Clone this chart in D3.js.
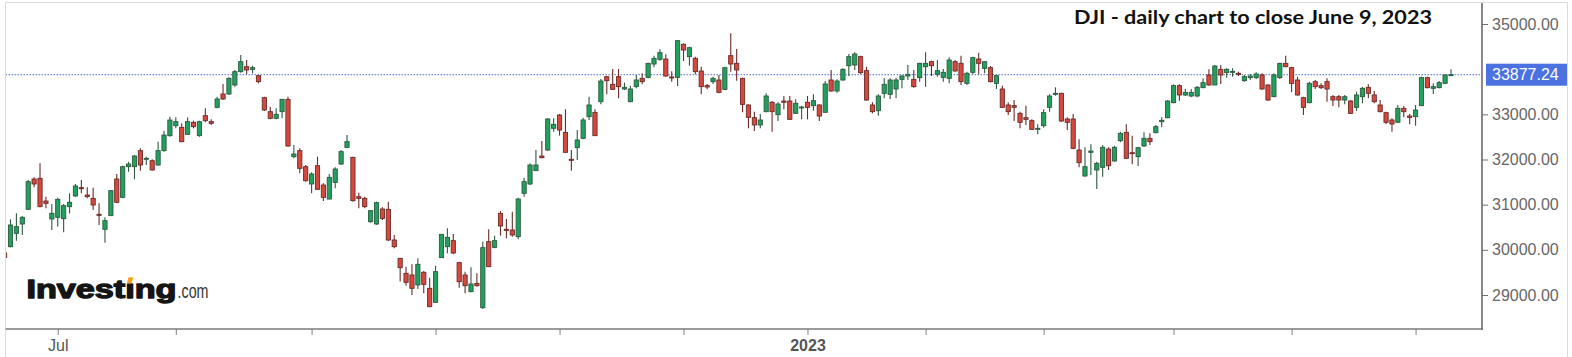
<!DOCTYPE html>
<html><head><meta charset="utf-8">
<script src="https://cdn.jsdelivr.net/npm/d3@7"></script>
<style>
html,body{margin:0;padding:0;background:#fff;}
svg{display:block;}
</style></head>
<body>
<svg id="chart" width="1572" height="357"></svg>
<script>
// ---- DATA (DJI daily, Jun 17 2022 - Jun 9 2023) ----
const dates = [
"2022-06-17","2022-06-21","2022-06-22","2022-06-23","2022-06-24","2022-06-27","2022-06-28","2022-06-29","2022-06-30",
"2022-07-01","2022-07-05","2022-07-06","2022-07-07","2022-07-08","2022-07-11","2022-07-12","2022-07-13","2022-07-14","2022-07-15","2022-07-18","2022-07-19","2022-07-20","2022-07-21","2022-07-22","2022-07-25","2022-07-26","2022-07-27","2022-07-28","2022-07-29",
"2022-08-01","2022-08-02","2022-08-03","2022-08-04","2022-08-05","2022-08-08","2022-08-09","2022-08-10","2022-08-11","2022-08-12","2022-08-15","2022-08-16","2022-08-17","2022-08-18","2022-08-19","2022-08-22","2022-08-23","2022-08-24","2022-08-25","2022-08-26","2022-08-29","2022-08-30","2022-08-31",
"2022-09-01","2022-09-02","2022-09-06","2022-09-07","2022-09-08","2022-09-09","2022-09-12","2022-09-13","2022-09-14","2022-09-15","2022-09-16","2022-09-19","2022-09-20","2022-09-21","2022-09-22","2022-09-23","2022-09-26","2022-09-27","2022-09-28","2022-09-29","2022-09-30",
"2022-10-03","2022-10-04","2022-10-05","2022-10-06","2022-10-07","2022-10-10","2022-10-11","2022-10-12","2022-10-13","2022-10-14","2022-10-17","2022-10-18","2022-10-19","2022-10-20","2022-10-21","2022-10-24","2022-10-25","2022-10-26","2022-10-27","2022-10-28","2022-10-31",
"2022-11-01","2022-11-02","2022-11-03","2022-11-04","2022-11-07","2022-11-08","2022-11-09","2022-11-10","2022-11-11","2022-11-14","2022-11-15","2022-11-16","2022-11-17","2022-11-18","2022-11-21","2022-11-22","2022-11-23","2022-11-25","2022-11-28","2022-11-29","2022-11-30",
"2022-12-01","2022-12-02","2022-12-05","2022-12-06","2022-12-07","2022-12-08","2022-12-09","2022-12-12","2022-12-13","2022-12-14","2022-12-15","2022-12-16","2022-12-19","2022-12-20","2022-12-21","2022-12-22","2022-12-23","2022-12-27","2022-12-28","2022-12-29","2022-12-30",
"2023-01-03","2023-01-04","2023-01-05","2023-01-06","2023-01-09","2023-01-10","2023-01-11","2023-01-12","2023-01-13","2023-01-17","2023-01-18","2023-01-19","2023-01-20","2023-01-23","2023-01-24","2023-01-25","2023-01-26","2023-01-27","2023-01-30","2023-01-31",
"2023-02-01","2023-02-02","2023-02-03","2023-02-06","2023-02-07","2023-02-08","2023-02-09","2023-02-10","2023-02-13","2023-02-14","2023-02-15","2023-02-16","2023-02-17","2023-02-21","2023-02-22","2023-02-23","2023-02-24","2023-02-27","2023-02-28",
"2023-03-01","2023-03-02","2023-03-03","2023-03-06","2023-03-07","2023-03-08","2023-03-09","2023-03-10","2023-03-13","2023-03-14","2023-03-15","2023-03-16","2023-03-17","2023-03-20","2023-03-21","2023-03-22","2023-03-23","2023-03-24","2023-03-27","2023-03-28","2023-03-29","2023-03-30","2023-03-31",
"2023-04-03","2023-04-04","2023-04-05","2023-04-06","2023-04-10","2023-04-11","2023-04-12","2023-04-13","2023-04-14","2023-04-17","2023-04-18","2023-04-19","2023-04-20","2023-04-21","2023-04-24","2023-04-25","2023-04-26","2023-04-27","2023-04-28",
"2023-05-01","2023-05-02","2023-05-03","2023-05-04","2023-05-05","2023-05-08","2023-05-09","2023-05-10","2023-05-11","2023-05-12","2023-05-15","2023-05-16","2023-05-17","2023-05-18","2023-05-19","2023-05-22","2023-05-23","2023-05-24","2023-05-25","2023-05-26","2023-05-30","2023-05-31",
"2023-06-01","2023-06-02","2023-06-05","2023-06-06","2023-06-07","2023-06-08","2023-06-09"
];
const open = [
29930,30070,30365,30572,30897,31568,31583,31081,30683,
30720,30690,30956,31192,31376,31214,31140,30786,30454,30757,31568,31162,31841,31841,32196,32004,31974,31878,32196,32528,
32749,32712,32557,32823,32528,32970,32838,33155,33450,33450,33649,33945,34055,33996,33856,33369,33059,32911,33059,33332,32063,32196,31841,
31458,31863,31435,31125,31494,31900,32269,32048,31177,31140,30624,30572,30904,30897,30218,29812,29480,29443,29222,29502,29148,
28838,29827,30070,30203,29716,29443,29074,29258,28720,30181,30055,30808,30454,30439,30292,31251,31458,31753,32077,32210,32690,
32985,32601,32004,32262,32469,32948,33044,33280,33834,33664,33834,33561,33280,33613,33797,33819,34114,34218,34225,33827,33819,
34550,34277,34240,33959,33635,33723,33760,33553,34299,34129,33797,33207,32926,32764,33059,33266,32993,33295,33295,33022,33140,
33266,33192,33207,33044,33760,33517,33760,34077,34092,34277,33967,33207,33081,33465,33443,33561,33775,33849,33775,33812,
34055,34166,33886,33819,33797,34166,34129,33686,33930,34225,34018,34033,33686,33561,33207,33192,33022,32926,32860,
32668,32749,33155,33443,33465,32897,32897,32210,31635,32159,31768,31827,32232,31967,32417,32601,32151,32063,32299,32469,32594,32838,32926,
33258,33635,33428,33406,33406,33591,33871,33650,33996,33923,33945,33908,33745,33812,33812,33871,33650,33391,33812,
34129,34033,33760,33369,33258,33723,33635,33723,33391,33391,33317,33295,33155,33391,33598,33428,33207,33037,32875,32823,33133,32963,
32948,33192,33812,33576,33591,33686,33871
];
const high = [
29960,30675,30808,30749,31546,31605,31915,31177,31015,
31155,31015,31251,31458,31546,31384,31376,31030,30720,31325,31679,31863,31952,32100,32247,32063,32004,32395,32638,32948,
32934,32801,32934,32860,32860,33133,32889,33391,33672,33819,33982,34314,34203,34077,33871,33391,33170,33133,33340,33391,32321,32247,31878,
31716,32063,31472,31679,31827,32210,32542,32063,31266,31177,30882,31066,30941,31066,30329,29812,29627,29679,29812,29531,29384,
29650,30350,30476,30350,29738,29517,29613,29480,30181,30454,30314,30860,30683,30845,31155,31598,31915,32210,32410,32911,32911,
33007,33111,32210,32653,32926,33391,33111,33782,33849,34004,34004,33701,33635,33871,33908,34144,34299,34439,34328,33952,34646,
34572,34498,34277,34055,33672,33834,33871,34055,34793,34447,33812,33221,33059,33007,33465,33295,33266,33406,33406,33332,33192,
33406,33443,33221,33738,33982,33775,34018,34336,34373,34299,34055,33266,33443,33797,33797,33812,33871,34092,33982,34144,
34373,34188,34203,34004,34262,34203,34299,33945,34277,34365,34181,34070,33871,33635,33266,33317,33059,33192,32889,
32779,33111,33443,33598,33480,32934,33007,32447,32269,32336,31952,32321,32269,32306,32616,32779,32528,32284,32601,32579,32764,32934,33317,
33664,33664,33561,33561,33627,33797,33996,34092,34092,34018,34018,33945,33871,33893,33930,33908,33664,33908,34144,
34299,34055,33834,33391,33723,33760,33686,33797,33428,33428,33428,33317,33502,33613,33664,33517,33317,33059,32911,33207,33185,33007,
33207,33834,33834,33686,33738,33886,33996
];
const low = [
29810,30055,30203,30329,30882,31384,30941,30919,30439,
30513,30388,30808,31177,31251,31140,30882,30550,30159,30749,31030,31140,31730,31561,31753,31878,31753,31863,32174,32506,
32690,32380,32542,32690,32506,32823,32764,33133,33317,33428,33612,33922,33893,33908,33686,33074,32889,32889,32911,32284,32026,31694,31509,
31251,31325,31081,31118,31362,31878,32247,31066,30919,30919,30602,30550,30661,30196,30033,29300,29207,29000,29133,29037,28727,
28830,29827,29923,29900,29162,29037,29059,29185,28690,29627,30033,30314,30255,30292,30233,31177,31435,31753,32026,32188,32616,
32528,32151,31753,31989,32447,32875,32520,33221,33443,33539,33354,33539,33266,33576,33664,33797,34041,34188,33834,33723,33627,
34181,34077,33886,33443,33554,33672,33465,33539,33945,33745,33044,32690,32631,32690,33044,32616,32852,33111,32875,33007,32889,
32889,33081,32852,33037,33502,33480,33745,33849,33982,33893,33303,33022,32970,33354,33340,33354,33576,33760,33590,33723,
33613,33849,33834,33723,33686,33945,33650,33650,33886,33886,33908,33709,33561,33155,32985,32852,32690,32764,32653,
32557,32705,33059,33413,32838,32653,32225,31827,31620,31656,31347,31620,31768,31952,32380,32011,31893,31856,32284,32321,32579,32712,32911,
33244,33303,33406,33376,33376,33576,33635,33650,33672,33812,33834,33849,33723,33760,33782,33546,33295,33376,33782,
34041,33487,33413,32985,33244,33561,33561,33280,33185,33155,33221,33007,33074,33244,33354,33244,33044,32779,32616,32815,32934,32779,
32749,33185,33576,33450,33576,33672,33849
];
const close = [
29830,30550,30513,30720,31509,31458,30956,31030,30808,
31118,30978,31052,31413,31354,31177,30993,30764,30646,31310,31052,31841,31900,32077,31878,32026,31768,32196,32542,32874,
32838,32395,32838,32727,32838,32860,32801,33340,33340,33797,33945,34166,33982,34033,33723,33096,32911,33000,33332,32299,32122,31804,31531,
31679,31340,31162,31605,31790,32174,32395,31089,31140,30956,30867,31044,30697,30218,30070,29605,29281,29148,29679,29236,28742,
29517,30343,30277,29930,29295,29207,29244,29207,30048,29627,30203,30528,30432,30329,31125,31509,31878,31878,32040,32897,32779,
32653,32159,31982,32432,32875,33207,32528,33738,33745,33553,33613,33598,33561,33760,33723,34129,34240,34365,33849,33820,34631,
34424,34476,33945,33613,33605,33797,33487,34033,34114,33982,33221,32934,32764,32875,33406,33059,33229,33266,32889,33244,33162,
33155,33303,32963,33672,33517,33738,33996,34277,34336,33923,33317,33059,33406,33664,33760,33760,33849,33886,33613,34129,
34129,34077,33967,33930,34203,33960,33723,33908,34255,34129,34166,33723,33856,33155,33059,33155,32823,32889,32668,
32690,33037,33406,33465,32852,32823,32247,31930,31841,32188,31915,32269,31863,32269,32579,32026,32129,32262,32469,32395,32727,32867,33295,
33635,33428,33487,33487,33598,33701,33650,34070,33871,33996,33952,33893,33834,33849,33893,33561,33317,33871,34129,
34055,33686,33428,33155,33686,33613,33590,33561,33317,33317,33391,33022,33428,33576,33465,33280,33059,32823,32786,33133,33059,32934,
33096,33812,33590,33613,33701,33871,33877.24
];
const priceTicks = [35000, 33000, 32000, 31000, 30000, 29000];
const dateTicks = ["2022-07-01","2022-08-01","2022-09-01","2022-10-03","2022-11-01","2022-12-01","2023-01-03","2023-02-01","2023-03-02","2023-04-03","2023-05-02","2023-06-01"];
const dateTickLabels = ["Jul","","","","","","2023","","","","",""];
const lastPrice = 33877.24;
const titleText = "DJI - daily chart to close June 9, 2023";

// ---- LAYOUT ----
const W = 1572, H = 357;
const plot = {left: 5.5, right: 1482, top: 3, bottom: 329};
const svg = d3.select("#chart");

const x = d3.scalePoint().domain(dates).range([4.6, 1451]);
const y = d3.scaleLinear().domain([29000, 35000]).range([295, 24]);

// frame
svg.append("rect").attr("x",0).attr("y",0).attr("width",W).attr("height",H).attr("fill","#fff");
svg.append("line").attr("x1",plot.left).attr("x2",1567.5).attr("y1",2.5).attr("y2",2.5).attr("stroke","#dcdcdc").attr("stroke-width",1);
svg.append("line").attr("x1",plot.left).attr("x2",plot.left).attr("y1",2.5).attr("y2",H).attr("stroke","#dcdcdc").attr("stroke-width",1);
svg.append("line").attr("x1",1567.5).attr("x2",1567.5).attr("y1",2.5).attr("y2",H).attr("stroke","#dcdcdc").attr("stroke-width",1);

// clip
svg.append("clipPath").attr("id","clip").append("rect")
  .attr("x",plot.left+0.5).attr("y",plot.top).attr("width",plot.right-plot.left-0.5).attr("height",plot.bottom-plot.top);

const data = dates.map((d,i)=>({d, o:open[i], h:high[i], l:low[i], c:close[i]}));
const UP_FILL="#21a05e", UP_STROKE="#2d5a40", DN_FILL="#d6493f", DN_STROKE="#6a2b27";

// logo (behind candles)
const logo = svg.append("g");
const inv = logo.append("text").attr("x",26.5).attr("y",298)
  .attr("font-family","'Liberation Sans', Arial, sans-serif").attr("font-weight","bold").attr("font-size",25)
  .attr("textLength",150).attr("lengthAdjust","spacingAndGlyphs")
  .attr("fill","#151515").attr("stroke","#151515").attr("stroke-width",1.3).attr("stroke-linejoin","round")
  .text("Invest\u0131ng");
logo.append("text").attr("x",177.5).attr("y",298)
  .attr("font-family","'Liberation Sans', Arial, sans-serif").attr("font-size",20)
  .attr("textLength",31).attr("lengthAdjust","spacingAndGlyphs")
  .attr("fill","#333").text(".com");
try {
  const ext = inv.node().getExtentOfChar(6);
  const cx = ext.x + ext.width/2;
  logo.append("polygon")
    .attr("points",[[cx-3.2,283.5],[cx+1.6,283.5],[cx+3.4,277.2],[cx-1.4,277.2]].map(p=>p.join(",")).join(" "))
    .attr("fill","#f4a11d");
} catch(e) {}

const g = svg.append("g").attr("clip-path","url(#clip)");

// price line
g.append("line").attr("x1",plot.left).attr("x2",plot.right).attr("y1",y(lastPrice)).attr("y2",y(lastPrice))
  .attr("stroke","#4d6fd6").attr("stroke-width",1).attr("stroke-dasharray","1.5,1.5");

// wicks
g.selectAll("line.wick").data(data).join("line").attr("class","wick")
  .attr("x1",d=>x(d.d)).attr("x2",d=>x(d.d))
  .attr("y1",d=>y(d.h)).attr("y2",d=>y(d.l))
  .attr("stroke",d=>d.c>=d.o?UP_STROKE:DN_STROKE).attr("stroke-width",1.1);

// bodies
g.selectAll("rect.body").data(data).join("rect").attr("class","body")
  .attr("x",d=>x(d.d)-2.1).attr("width",4.2)
  .attr("y",d=>y(Math.max(d.o,d.c)))
  .attr("height",d=>Math.max(1, Math.abs(y(d.o)-y(d.c))))
  .attr("fill",d=>d.c>=d.o?UP_FILL:DN_FILL)
  .attr("stroke",d=>d.c>=d.o?UP_STROKE:DN_STROKE).attr("stroke-width",0.9);

// bottom axis
const xAxis = d3.axisBottom(x).tickValues(dateTicks).tickFormat((d,i)=>dateTickLabels[i]).tickSize(6).tickPadding(5);
const gx = svg.append("g").attr("transform",`translate(0,${plot.bottom})`).call(xAxis);
gx.select(".domain").remove();
gx.selectAll(".tick line").attr("stroke","#808080");
gx.selectAll(".tick text").attr("font-family","'Liberation Sans', Arial, sans-serif").attr("font-size",16)
  .attr("fill","#555").attr("font-weight",(d,i)=>dateTickLabels[i]==="2023"?"bold":"normal");
svg.append("line").attr("x1",plot.left).attr("x2",plot.right+0.8).attr("y1",plot.bottom).attr("y2",plot.bottom)
  .attr("stroke","#7a7a7a").attr("stroke-width",1.6);

// right axis
const yAxis = d3.axisRight(y).tickValues(priceTicks).tickFormat(d3.format(".2f")).tickSize(6).tickPadding(4);
const gy = svg.append("g").attr("transform",`translate(${plot.right},0)`).call(yAxis);
gy.select(".domain").remove();
gy.selectAll(".tick line").attr("stroke","#707070");
gy.selectAll(".tick text").attr("font-family","'Liberation Sans', Arial, sans-serif").attr("font-size",16).attr("fill","#666");
svg.append("line").attr("x1",plot.right).attr("x2",plot.right).attr("y1",plot.top).attr("y2",plot.bottom+0.8)
  .attr("stroke","#6a6a6a").attr("stroke-width",1.6);

// current price label
const py = y(lastPrice);
svg.append("rect").attr("x",1486).attr("y",py-11).attr("width",81).attr("height",22).attr("fill","#4b72e0");
svg.append("text").attr("x",1492).attr("y",py).attr("dy","0.35em")
  .attr("font-family","'Liberation Sans', Arial, sans-serif").attr("font-size",16).attr("fill","#fff")
  .text(d3.format(".2f")(lastPrice));

// title
svg.append("text").attr("x",1074).attr("y",24)
  .attr("font-family","Lato, 'Open Sans', sans-serif").attr("font-weight",700).attr("font-size",19)
  .attr("textLength",358).attr("lengthAdjust","spacingAndGlyphs")
  .attr("fill","#111").text(titleText);
</script>
</body></html>
